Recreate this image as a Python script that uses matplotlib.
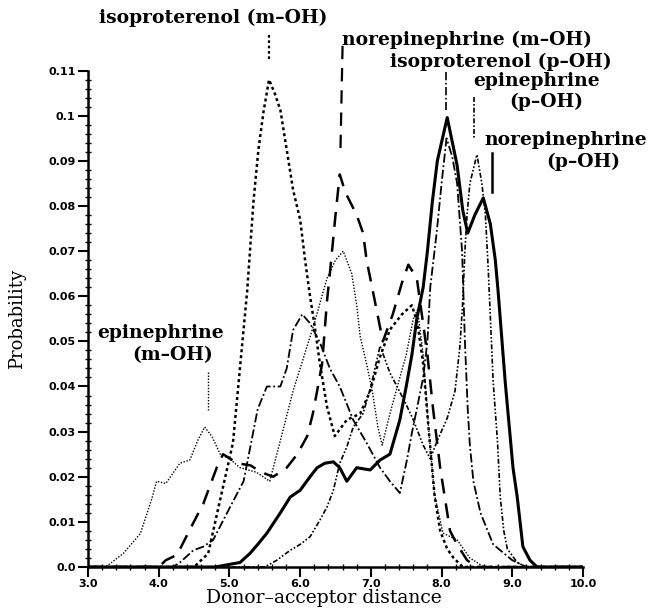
import matplotlib
matplotlib.use("Agg")
import matplotlib.pyplot as plt
from matplotlib.ticker import MultipleLocator, AutoMinorLocator, FuncFormatter

# distances (x) and probabilities (y)
iso_m_x = [3.0, 4.5, 4.7, 4.87, 5.05, 5.25, 5.34, 5.41, 5.48, 5.56, 5.64, 5.72, 5.81, 5.9, 6.0, 6.07,
           6.14, 6.2, 6.28, 6.38, 6.49, 6.66, 6.85, 6.99, 7.13, 7.27, 7.44, 7.58, 7.66, 7.74, 7.82,
           7.9, 7.98, 8.08, 8.17, 8.3, 10.0]
iso_m_y = [0.0, 0.0, 0.003, 0.015, 0.0275, 0.061, 0.081, 0.0925, 0.1007, 0.108, 0.105, 0.1013, 0.0925,
           0.0836, 0.077, 0.068, 0.06, 0.054, 0.045, 0.0355, 0.029, 0.0326, 0.034, 0.039, 0.0466,
           0.0526, 0.056, 0.058, 0.054, 0.045, 0.03, 0.016, 0.008, 0.004, 0.002, 0.0, 0.0]

epi_m_x = [3.0, 3.25, 3.5, 3.74, 3.9, 3.97, 4.1, 4.3, 4.44, 4.55, 4.65, 4.75, 4.87, 5.0, 5.15, 5.38,
           5.57, 5.72, 5.9, 6.04, 6.2, 6.38, 6.5, 6.61, 6.73, 6.8, 6.85, 6.94, 7.02, 7.1, 7.16, 7.27,
           7.41, 7.5, 7.6, 7.66, 7.74, 7.82, 7.9, 8.02, 8.22, 8.4, 8.6, 10.0]
epi_m_y = [0.0, 0.0, 0.003, 0.0074, 0.015, 0.019, 0.0185, 0.023, 0.0237, 0.028, 0.031, 0.029, 0.025,
           0.024, 0.022, 0.021, 0.019, 0.028, 0.039, 0.046, 0.054, 0.064, 0.068, 0.07, 0.065, 0.058,
           0.051, 0.045, 0.039, 0.031, 0.027, 0.034, 0.042, 0.047, 0.055, 0.057, 0.047, 0.03, 0.016,
           0.0075, 0.006, 0.002, 0.0, 0.0]

nor_m_x = [3.0, 4.0, 4.1, 4.26, 4.49, 4.63, 4.82, 4.91, 5.11, 5.3, 5.45, 5.62, 5.81, 5.96, 6.1, 6.18,
           6.24, 6.31, 6.38, 6.42, 6.5, 6.56, 6.64, 6.8, 6.89, 6.94, 7.03, 7.17, 7.31, 7.44, 7.53,
           7.65, 7.8, 7.88, 7.98, 8.12, 8.22, 8.36, 8.5, 10.0]
nor_m_y = [0.0, 0.0, 0.0015, 0.0027, 0.0098, 0.014, 0.022, 0.025, 0.023, 0.0225, 0.021, 0.02, 0.022,
           0.025, 0.029, 0.034, 0.039, 0.045, 0.059, 0.065, 0.078, 0.087, 0.083, 0.078, 0.074, 0.068,
           0.061, 0.05, 0.056, 0.063, 0.067, 0.064, 0.047, 0.035, 0.022, 0.008, 0.005, 0.0015, 0.0, 0.0]

iso_p_x = [3.0, 4.2, 4.3, 4.49, 4.63, 4.77, 5.0, 5.2, 5.3, 5.4, 5.53, 5.72, 5.81, 5.9, 6.03, 6.14,
           6.28, 6.42, 6.56, 6.75, 6.94, 7.13, 7.27, 7.41, 7.51, 7.58, 7.65, 7.74, 7.8, 7.84, 7.93,
           8.0, 8.07, 8.15, 8.22, 8.29, 8.33, 8.37, 8.4, 8.45, 8.55, 8.73, 9.0, 9.2, 10.0]
iso_p_y = [0.0, 0.0, 0.001, 0.0037, 0.0045, 0.006, 0.013, 0.019, 0.027, 0.035, 0.04, 0.04, 0.044,
           0.0525, 0.056, 0.054, 0.0497, 0.044, 0.04, 0.0326, 0.0275, 0.022, 0.019, 0.0164, 0.0237,
           0.0297, 0.035, 0.042, 0.05, 0.062, 0.074, 0.085, 0.095, 0.091, 0.085, 0.07, 0.05, 0.035,
           0.027, 0.019, 0.012, 0.005, 0.0015, 0.0, 0.0]

epi_p_x = [3.0, 5.5, 5.67, 5.86, 6.0, 6.14, 6.28, 6.38, 6.47, 6.56, 6.66, 6.75, 6.89, 7.0, 7.13,
           7.27, 7.37, 7.5, 7.6, 7.74, 7.84, 7.94, 8.08, 8.19, 8.26, 8.3, 8.33, 8.36, 8.4, 8.5, 8.57,
           8.62, 8.66, 8.73, 8.79, 8.83, 8.88, 8.93, 9.07, 9.2, 10.0]
epi_p_y = [0.0, 0.0, 0.0015, 0.0037, 0.005, 0.0067, 0.0104, 0.0133, 0.017, 0.023, 0.0266, 0.031,
           0.034, 0.04, 0.049, 0.043, 0.04, 0.036, 0.0326, 0.027, 0.024, 0.028, 0.033, 0.039, 0.049,
           0.059, 0.07, 0.078, 0.085, 0.0914, 0.085, 0.078, 0.066, 0.041, 0.028, 0.0155, 0.008,
           0.004, 0.001, 0.0, 0.0]

nor_p_x = [3.0, 4.8, 5.15, 5.29, 5.4, 5.53, 5.72, 5.86, 6.0, 6.14, 6.24, 6.35, 6.47, 6.56, 6.66,
           6.8, 6.99, 7.13, 7.27, 7.41, 7.5, 7.58, 7.65, 7.74, 7.8, 7.87, 7.94, 8.08, 8.22, 8.3,
           8.37, 8.47, 8.59, 8.69, 8.76, 8.8, 8.9, 9.01, 9.07, 9.15, 9.25, 9.35, 10.0]
nor_p_y = [0.0, 0.0, 0.001, 0.003, 0.005, 0.0075, 0.012, 0.0155, 0.017, 0.02, 0.022, 0.023, 0.0233,
           0.022, 0.019, 0.022, 0.0215, 0.0237, 0.025, 0.0326, 0.04, 0.047, 0.055, 0.062, 0.07,
           0.081, 0.09, 0.0996, 0.089, 0.079, 0.074, 0.078, 0.0818, 0.076, 0.068, 0.061, 0.041,
           0.022, 0.0155, 0.0045, 0.0015, 0.0, 0.0]

fig = plt.figure(figsize=(6.49, 6.09), dpi=100)
ax = fig.add_axes([0.1356, 0.069, 0.7627, 0.815])

ax.plot(epi_m_x, epi_m_y, color="k", lw=1.0, dashes=(1, 1.2))
ax.plot(iso_m_x, iso_m_y, color="k", lw=1.8, dashes=(1.2, 1.2))
ax.plot(nor_m_x, nor_m_y, color="k", lw=1.8, dashes=(6, 4))
ax.plot(iso_p_x, iso_p_y, color="k", lw=1.3, dashes=(5, 1.5, 1, 1.5))
ax.plot(epi_p_x, epi_p_y, color="k", lw=1.2, dashes=(3, 1.2, 1, 1.2, 1, 1.2))
ax.plot(nor_p_x, nor_p_y, color="k", lw=2.2)

# label leader lines
ax.plot([5.56, 5.56], [0.1178, 0.1122], color="k", lw=1.6, dashes=(1.2, 1.2), clip_on=False)
ax.plot([6.6, 6.57], [0.1155, 0.0925], color="k", lw=1.6, dashes=(6, 4), clip_on=False)
ax.plot([8.06, 8.06], [0.1096, 0.1013], color="k", lw=1.2, dashes=(5, 1.5, 1, 1.5), clip_on=False)
ax.plot([8.46, 8.46], [0.1042, 0.0951], color="k", lw=1.2, dashes=(3, 1.2, 1, 1.2), clip_on=False)
ax.plot([8.71, 8.71], [0.0918, 0.0832], color="k", lw=1.8)
ax.plot([4.70, 4.70], [0.0432, 0.0348], color="k", lw=1.0, dashes=(1, 1.2))

lab = dict(family="DejaVu Serif", weight="bold", fontsize=13.5, ha="center", va="center")
ax.text(4.77, 0.1218, "isoproterenol (m–OH)", **lab)
ax.text(8.36, 0.1169, "norepinephrine (m–OH)", **lab)
ax.text(8.84, 0.1120, "isoproterenol (p–OH)", **lab)
ax.text(9.34, 0.1076, "epinephrine", **lab)
ax.text(9.48, 0.1031, "(p–OH)", **lab)
ax.text(9.75, 0.0947, "norepinephrine", **lab)
ax.text(10.0, 0.0898, "(p–OH)", **lab)
ax.text(4.02, 0.0519, "epinephrine", **lab)
ax.text(4.19, 0.0470, "(m–OH)", **lab)

ax.set_xlim(3.0, 10.0)
ax.set_ylim(0.0, 0.11)
ax.xaxis.set_major_locator(MultipleLocator(1.0))
ax.xaxis.set_minor_locator(AutoMinorLocator(5))
ax.yaxis.set_major_locator(MultipleLocator(0.01))
ax.yaxis.set_minor_locator(AutoMinorLocator(5))
ax.xaxis.set_major_formatter(FuncFormatter(lambda v, p: f"{v:.1f}"))
ax.yaxis.set_major_formatter(FuncFormatter(lambda v, p: "0.0" if abs(v) < 1e-9 else f"{v:.2f}".rstrip("0")))

for s in ["top", "right"]:
    ax.spines[s].set_visible(False)
for s in ["left", "bottom"]:
    ax.spines[s].set_linewidth(1.8)

ax.tick_params(which="major", direction="out", length=7, width=1.5, labelsize=8, pad=2)
ax.tick_params(which="minor", direction="inout", length=5, width=1.0)
for t in ax.get_xticklabels() + ax.get_yticklabels():
    t.set_fontweight("bold")

ax.set_xlabel("Donor–acceptor distance", family="DejaVu Serif", fontsize=13.5)
ax.xaxis.set_label_coords(0.477, -0.045)
ax.set_ylabel("Probability", family="DejaVu Serif", fontsize=13)
ax.yaxis.set_label_coords(-0.125, 0.5)

fig.savefig("out.png", dpi=100)
